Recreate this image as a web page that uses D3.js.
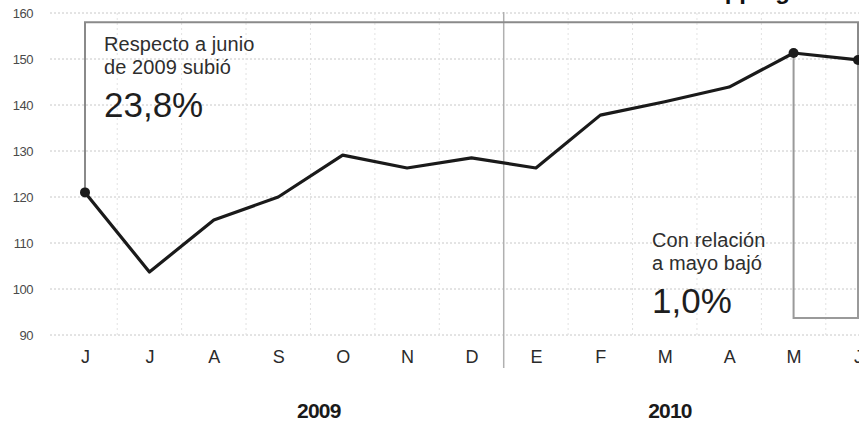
<!DOCTYPE html>
<html>
<head>
<meta charset="utf-8">
<script src="https://cdn.jsdelivr.net/npm/d3@7/dist/d3.min.js"></script>
<style>
  html, body { margin: 0; padding: 0; background: #fff; }
  svg { display: block; font-family: Arial, "Liberation Sans", Helvetica, sans-serif; }
</style>
</head>
<body>
<svg id="chart" width="859" height="422"></svg>
<script>
// ---- data ----
const months = ["J", "J", "A", "S", "O", "N", "D", "E", "F", "M", "A", "M", "J"];
const values = [121.0, 103.7, 115.0, 120.0, 129.1, 126.3, 128.5, 126.3, 137.8, 140.7, 143.9, 151.3, 149.8];
const yTicks = [90, 100, 110, 120, 130, 140, 150, 160];
const years = ["2009", "2010"];
const yearCenters = [3.63, 9.08];       // in month-index units
const highlighted = [0, 11, 12];        // indices with dots
const note1 = ["Respecto a junio", "de 2009 subió", "23,8%"];
const note2 = ["Con relación", "a mayo bajó", "1,0%"];
const titleText = "Ventas en shopping";

const W = 859, H = 422;
const svg = d3.select("#chart");

const x = d3.scaleLinear().domain([0, months.length - 1]).range([85, 858]);
const y = d3.scaleLinear().domain([90, 160]).range([335, 13]);

// title (cut off at the top of the picture, as in the reference)
svg.append("text")
  .attr("x", 790).attr("y", -1)
  .attr("text-anchor", "end")
  .attr("font-size", 24).attr("font-weight", "bold").attr("fill", "#111")
  .text(titleText);

// horizontal dotted gridlines
svg.append("g").selectAll("line").data(yTicks).join("line")
  .attr("x1", 50).attr("x2", W)
  .attr("y1", d => y(d)).attr("y2", d => y(d))
  .attr("stroke", "#c8c8c8").attr("stroke-width", 1)
  .attr("stroke-dasharray", "2,2");

// vertical dotted gridlines at month boundaries
const bounds = d3.range(0.5, months.length - 0.5, 1);
svg.append("g").selectAll("line").data(bounds.filter(b => b !== 6.5)).join("line")
  .attr("x1", d => x(d)).attr("x2", d => x(d))
  .attr("y1", y(160)).attr("y2", y(90))
  .attr("stroke", "#e2e2e2").attr("stroke-width", 1)
  .attr("stroke-dasharray", "2,3");

// year separator
svg.append("line")
  .attr("x1", x(6.5)).attr("x2", x(6.5))
  .attr("y1", y(160) - 1).attr("y2", 368)
  .attr("stroke", "#b0b0b0").attr("stroke-width", 1.5);

// y axis
const yAxis = d3.axisLeft(y).tickValues(yTicks).tickSize(0).tickPadding(0);
const gy = svg.append("g").attr("transform", "translate(33,0)").call(yAxis);
gy.select(".domain").remove();
gy.selectAll("text")
  .attr("font-family", "Arial, 'Liberation Sans', sans-serif")
  .attr("font-size", 13).attr("fill", "#4a4a4a")
  .attr("letter-spacing", "-0.5");

// x axis (month initials)
const xAxis = d3.axisBottom(x).tickValues(d3.range(months.length))
  .tickFormat(i => months[i]).tickSize(0).tickPadding(0);
const gx = svg.append("g").attr("transform", "translate(0,349)").call(xAxis);
gx.select(".domain").remove();
gx.selectAll("text")
  .attr("dy", 0).attr("y", 14)
  .attr("font-family", "Arial, 'Liberation Sans', sans-serif")
  .attr("font-size", 18).attr("fill", "#2a2a2a");

// year labels
svg.append("g").selectAll("text").data(years).join("text")
  .attr("x", (d, i) => x(yearCenters[i]))
  .attr("y", 418)
  .attr("text-anchor", "middle")
  .attr("font-size", 21).attr("font-weight", "bold").attr("fill", "#1a1a1a")
  .attr("letter-spacing", "-0.8")
  .text(d => d);

// annotation brackets
const last = values.length - 1;
const bracket1 = d3.path();
bracket1.moveTo(x(0), y(values[0]));
bracket1.lineTo(x(0), y(158.0));
bracket1.lineTo(x(last), y(158.0));
bracket1.lineTo(x(last), y(values[last]));
svg.append("path").attr("d", bracket1.toString())
  .attr("fill", "none").attr("stroke", "#8a8a8a").attr("stroke-width", 2);

const bracket2 = d3.path();
bracket2.moveTo(x(11), y(values[11]));
bracket2.lineTo(x(11), y(93.7));
bracket2.lineTo(x(last), y(93.7));
bracket2.lineTo(x(last), y(values[last]));
svg.append("path").attr("d", bracket2.toString())
  .attr("fill", "none").attr("stroke", "#9a9a9a").attr("stroke-width", 2);

// data line
const line = d3.line().x((d, i) => x(i)).y(d => y(d));
svg.append("path").datum(values)
  .attr("d", line)
  .attr("fill", "none").attr("stroke", "#1a1a1a")
  .attr("stroke-width", 3.2).attr("stroke-linejoin", "round");

// dots
svg.append("g").selectAll("circle").data(highlighted).join("circle")
  .attr("cx", i => x(i)).attr("cy", i => y(values[i]))
  .attr("r", 5).attr("fill", "#1a1a1a");

// annotation texts
function note(lines, xPos, baselines) {
  const g = svg.append("g");
  lines.forEach((t, k) => {
    g.append("text")
      .attr("x", xPos).attr("y", baselines[k])
      .attr("font-size", k === 2 ? 35 : 20)
      .attr("fill", k === 2 ? "#1e1e1e" : "#2e2e2e")
      .attr("letter-spacing", k === 2 ? "0" : "0.1")
      .text(t);
  });
}
note(note1, 104, [51, 74, 117]);
note(note2, 652, [247, 270, 313]);
</script>
</body>
</html>
